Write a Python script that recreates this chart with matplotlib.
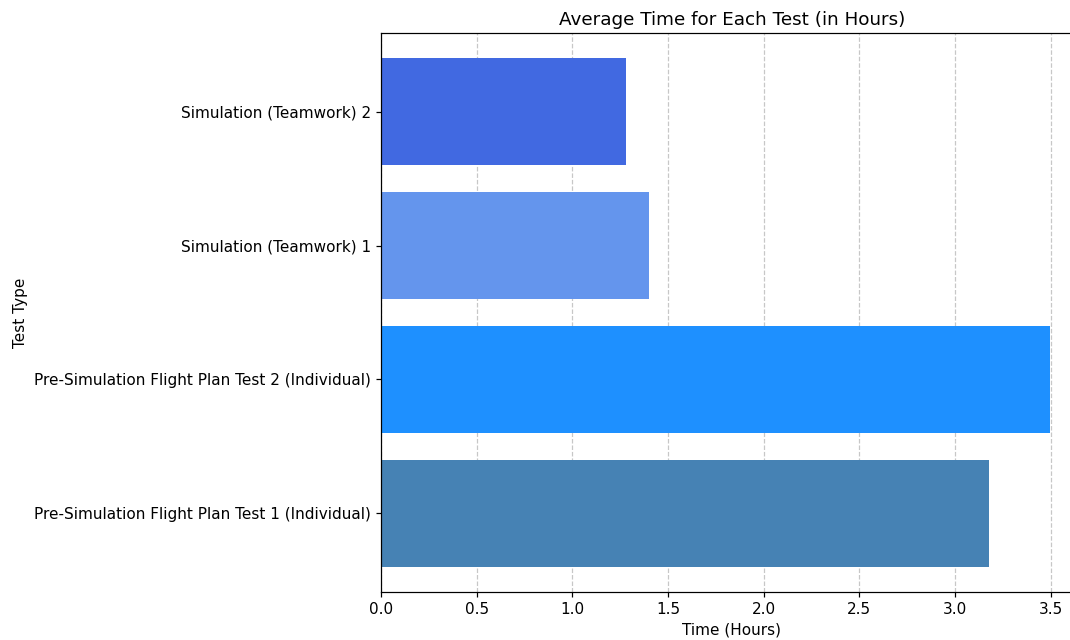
import matplotlib
matplotlib.use("Agg")
import matplotlib.pyplot as plt

tests = [
    "Pre-Simulation Flight Plan Test 1 (Individual)",
    "Pre-Simulation Flight Plan Test 2 (Individual)",
    "Simulation (Teamwork) 1",
    "Simulation (Teamwork) 2",
]
avg_hours = [3.18, 3.495, 1.40, 1.28]
colors = ["steelblue", "dodgerblue", "cornflowerblue", "royalblue"]

s = 1.1
plt.rcParams["font.size"] = 10 * s
plt.rcParams["axes.linewidth"] = 0.8 * s
plt.rcParams["xtick.major.width"] = 0.8 * s
plt.rcParams["ytick.major.width"] = 0.8 * s
plt.rcParams["xtick.major.size"] = 3.5 * s
plt.rcParams["ytick.major.size"] = 3.5 * s

fig = plt.figure(figsize=(10.7, 6.4), dpi=100)
ax = fig.add_axes([381/1070, 1-592/640, 702/1070, (592-33)/640])
ax.barh(tests, avg_hours, color=colors)
ax.set_title("Average Time for Each Test (in Hours)", fontsize=12 * s)
ax.set_xlabel("Time (Hours)")
ax.set_ylabel("Test Type")
ax.grid(axis="x", linestyle="--", alpha=0.7, linewidth=0.8 * s)
ax.set_axisbelow(True)
fig.savefig("out.png", dpi=100)
